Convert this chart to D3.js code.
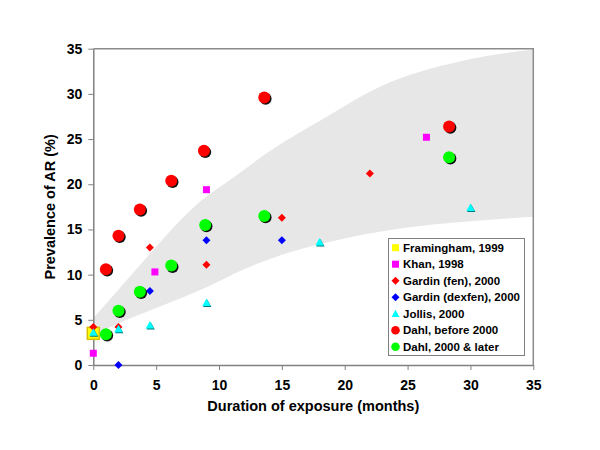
<!DOCTYPE html>
<html>
<head>
<meta charset="utf-8">
<script src="https://cdn.jsdelivr.net/npm/d3@7"></script>
<style>
  body { margin: 0; background: #fff; }
  svg text { font-family: "Liberation Sans", Arial, sans-serif; font-weight: bold; }
</style>
</head>
<body>
<svg id="chart"></svg>
<script>
const width = 600;
const height = 450;

// Data: [months, prevalence %]
const framingham = [[0, 3.5]];
const khan = [[0, 1.3], [4.9, 10.3], [9, 19.4], [26.5, 25.2]];
const gardinFen = [[0, 4.2], [2, 4.2], [4.5, 13.0], [9, 11.1], [15, 16.3], [22, 21.2]];
const gardinDexfen = [[2, 0], [4.5, 8.2], [9, 13.8], [15, 13.8]];
const jollis = [[0, 3.6], [2, 4.0], [4.5, 4.4], [9, 6.9], [18, 13.6], [30, 17.4]];
const dahlBefore = [[1, 10.6], [2, 14.3], [3.7, 17.2], [6.2, 20.4], [8.8, 23.7], [13.6, 29.6], [28.3, 26.4]];
const dahlAfter = [[1, 3.4], [2, 6.0], [3.7, 8.1], [6.2, 11.0], [8.9, 15.5], [13.6, 16.5], [28.3, 23.0]];

// Grey band edges, read at a few points along each curve
const bandUpper = [[0, 5.2], [2.1, 8.5], [4.5, 12.3], [6.9, 16.0], [8.7, 18.3], [10.9, 20.5], [14.5, 24.1],
                   [18, 27.0], [22.8, 30.8], [29.2, 33.6], [35, 34.9]];
const bandLower = [[0, 3.3], [2, 4.6], [5, 6.3], [9, 8.6], [12, 10.6], [15, 12.2], [20, 14.0],
                   [24.4, 15.1], [30, 15.9], [35, 16.4]];

const xTicks = [0, 5, 10, 15, 20, 25, 30, 35];
const yTicks = [0, 5, 10, 15, 20, 25, 30, 35];

const legendLabels = ["Framingham, 1999", "Khan, 1998", "Gardin (fen), 2000", "Gardin (dexfen), 2000",
                      "Jollis, 2000", "Dahl, before 2000", "Dahl, 2000 & later"];

const svg = d3.select("#chart")
    .attr("width", width)
    .attr("height", height);

const plotL = 93.3, plotR = 533.3, plotT = 48.7, plotB = 365;

const x = d3.scaleLinear().domain([0, 35]).range([plotL, plotR]);
const y = d3.scaleLinear().domain([0, 35]).range([plotB, plotT]);

// clip for the band
svg.append("clipPath").attr("id", "plotclip")
  .append("rect")
    .attr("x", plotL).attr("y", plotT)
    .attr("width", plotR - plotL).attr("height", plotB - plotT);

// band = upper edge forward, lower edge back
const edge = d3.line().x(d => x(d[0])).y(d => y(d[1])).curve(d3.curveMonotoneX);
const lowerRev = bandLower.slice().reverse();
const bandPath = edge(bandUpper) + "L" + edge(lowerRev).slice(1) + "Z";

svg.append("path")
    .attr("d", bandPath)
    .attr("fill", "#e7e7e7")
    .attr("clip-path", "url(#plotclip)");

// plot frame (top and right border)
svg.append("path")
    .attr("d", `M${plotL},${plotT}H${plotR}V${plotB}`)
    .attr("fill", "none")
    .attr("stroke", "#8c8c8c")
    .attr("stroke-width", 1.5);

// axes
const xAxis = svg.append("g")
    .attr("transform", `translate(0,${plotB})`)
    .call(d3.axisBottom(x).tickValues(xTicks).tickSize(5).tickPadding(10).tickSizeOuter(0));
const yAxis = svg.append("g")
    .attr("transform", `translate(${plotL},0)`)
    .call(d3.axisLeft(y).tickValues(yTicks).tickSize(5).tickPadding(6).tickSizeOuter(0));

[xAxis, yAxis].forEach(g => {
    g.select(".domain").attr("stroke", "#808080").attr("stroke-width", 1.5);
    g.selectAll(".tick line").attr("stroke", "#808080");
    g.selectAll(".tick text")
        .attr("fill", "#000")
        .style("font-size", "14px")
        .style("font-family", "'Liberation Sans', Arial, sans-serif")
        .style("font-weight", "bold");
});

// axis titles
svg.append("text")
    .attr("x", (plotL + plotR) / 2)
    .attr("y", 411)
    .attr("text-anchor", "middle")
    .style("font-size", "14.5px")
    .text("Duration of exposure (months)");

svg.append("text")
    .attr("transform", `translate(55,${(plotT + plotB) / 2}) rotate(-90)`)
    .attr("text-anchor", "middle")
    .style("font-size", "14.5px")
    .text("Prevalence of AR (%)");

// marker drawers
function square(g, cx, cy, s, fill, stroke) {
    g.append("rect")
        .attr("x", cx - s / 2).attr("y", cy - s / 2)
        .attr("width", s).attr("height", s)
        .attr("fill", fill)
        .attr("stroke", stroke || "none")
        .attr("stroke-width", 1.5);
}
function diamond(g, cx, cy, s, fill) {
    g.append("path")
        .attr("d", `M${cx},${cy - s}L${cx + s},${cy}L${cx},${cy + s}L${cx - s},${cy}Z`)
        .attr("fill", fill);
}
function triangle(g, cx, cy, s, fill, shade) {
    const p = (dx, dy) => `M${cx + dx},${cy - s + dy}L${cx + s + dx},${cy + s * 0.8 + dy}L${cx - s + dx},${cy + s * 0.8 + dy}Z`;
    if (shade) g.append("path").attr("d", p(0.8, 1)).attr("fill", shade);
    g.append("path").attr("d", p(0, 0)).attr("fill", fill);
}
function circle(g, cx, cy, r, fill, shadow) {
    if (shadow) g.append("circle").attr("cx", cx + 1.3).attr("cy", cy + 1.3).attr("r", r).attr("fill", "#111");
    g.append("circle").attr("cx", cx).attr("cy", cy).attr("r", r).attr("fill", fill);
}

const marks = svg.append("g");

framingham.forEach(d => square(marks, x(d[0]), y(d[1]), 12, "#ffff00", "#d8c000"));
khan.forEach(d => square(marks, x(d[0]), y(d[1]), 7, "#ff00ff"));
gardinFen.forEach(d => diamond(marks, x(d[0]), y(d[1]), 4, "#ff0000"));
gardinDexfen.forEach(d => diamond(marks, x(d[0]), y(d[1]), 4, "#0000ff"));
jollis.forEach(d => triangle(marks, x(d[0]), y(d[1]), 4.2, "#00ffff", "#007c7c"));
dahlBefore.forEach(d => circle(marks, x(d[0]), y(d[1]), 6, "#ff0000", true));
dahlAfter.forEach(d => circle(marks, x(d[0]), y(d[1]), 6, "#00ff00", true));

// legend
const lg = svg.append("g");
lg.append("rect")
    .attr("x", 388.5).attr("y", 238.5)
    .attr("width", 136).attr("height", 117)
    .attr("fill", "#fff")
    .attr("stroke", "#808080");

const rowY = i => 247.7 + i * 16.5;
const mx = 395.5;
square(lg, mx, rowY(0), 7, "#ffff00");
square(lg, mx, rowY(1), 7, "#ff00ff");
diamond(lg, mx, rowY(2), 4, "#ff0000");
diamond(lg, mx, rowY(3), 4, "#0000ff");
triangle(lg, mx, rowY(4), 4, "#00ffff");
circle(lg, mx, rowY(5), 4.3, "#ff0000");
circle(lg, mx, rowY(6), 4.3, "#00ff00");

lg.selectAll("text.lab")
    .data(legendLabels)
    .enter()
    .append("text")
    .attr("class", "lab")
    .attr("x", 403)
    .attr("y", (d, i) => rowY(i) + 4)
    .style("font-size", "11.5px")
    .text(d => d);
</script>
</body>
</html>
